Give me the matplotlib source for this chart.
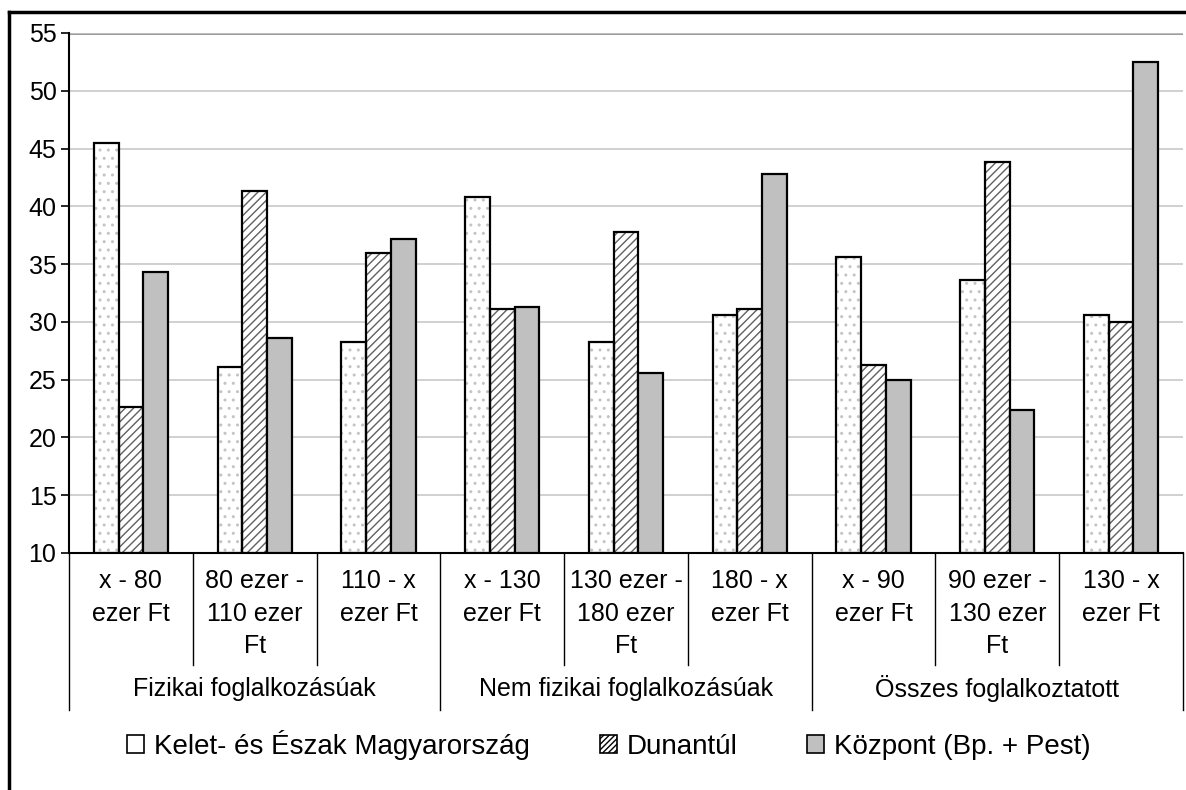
import numpy as np
import matplotlib.pyplot as plt
from matplotlib.patches import Patch
from matplotlib.lines import Line2D

plt.rcParams['font.family'] = ['Liberation Sans', 'DejaVu Sans']
plt.rcParams['hatch.linewidth'] = 1.0

# data
groups = ['Fizikai foglalkozásúak', 'Nem fizikai foglalkozásúak', 'Összes foglalkoztatott']
categories = ['x - 80\nezer Ft', '80 ezer -\n110 ezer\nFt', '110 - x\nezer Ft',
              'x - 130\nezer Ft', '130 ezer -\n180 ezer\nFt', '180 - x\nezer Ft',
              'x - 90\nezer Ft', '90 ezer -\n130 ezer\nFt', '130 - x\nezer Ft']
series = ['Kelet- és Észak Magyarország', 'Dunantúl', 'Központ (Bp. + Pest)']
kelet = [45.5, 26.1, 28.3, 40.8, 28.3, 30.6, 35.6, 33.6, 30.6]
dunantul = [22.6, 41.3, 36.0, 31.1, 37.8, 31.1, 26.3, 43.8, 30.0]
kozpont = [34.3, 28.6, 37.2, 31.3, 25.6, 42.8, 25.0, 22.4, 52.5]

fig = plt.figure(figsize=(11.86, 7.9), dpi=100)
ax = fig.add_axes([69/1186, 1 - 553/790, (1183 - 69)/1186, 520/790])

x = np.arange(len(categories)) + 0.5
w = 0.2
styles = [dict(face='white', hatch='..', hcol='#c4c4c4'),
          dict(face='white', hatch='////', hcol='#606060'),
          dict(face='#c0c0c0', hatch=None, hcol=None)]

for k, vals in enumerate([kelet, dunantul, kozpont]):
    st = styles[k]
    pos = x + (k - 1) * w
    base = [v - 10 for v in vals]
    if st['hatch']:
        # hatch drawn in its own colour, black outline on top
        ax.bar(pos, base, w, bottom=10, color=st['face'], hatch=st['hatch'],
               edgecolor=st['hcol'], linewidth=0, zorder=2)
        ax.bar(pos, base, w, bottom=10, fill=False, edgecolor='black', linewidth=1.6, zorder=3)
    else:
        ax.bar(pos, base, w, bottom=10, color=st['face'], edgecolor='black',
               linewidth=1.6, zorder=3)

ax.set_xlim(0, 9)
ax.set_ylim(10, 55)
ax.set_yticks(range(10, 56, 5))
ax.tick_params(axis='y', labelsize=18, length=6, width=1.2, direction='out', pad=3)
ax.set_xticks([])
ax.grid(axis='y', color='#c8c8c8', linewidth=1.2, zorder=0)
ax.axhline(55, color='#909090', linewidth=2, zorder=1)
for s in ['top', 'right']:
    ax.spines[s].set_visible(False)
ax.spines['left'].set_linewidth(1.5)
ax.spines['bottom'].set_linewidth(1.5)

# multilevel category axis
for i in range(10):
    y_end = -0.302 if i % 3 == 0 else -0.215
    ax.plot([i, i], [0, y_end], color='black', linewidth=1.0,
            transform=ax.get_xaxis_transform(), clip_on=False)
for i, lab in enumerate(categories):
    ax.text(i + 0.5, -0.03, lab, transform=ax.get_xaxis_transform(),
            ha='center', va='top', fontsize=18, linespacing=1.47)
for g, lab in enumerate(groups):
    ax.text(g * 3 + 1.5, -0.261, lab, transform=ax.get_xaxis_transform(),
            ha='center', va='center', fontsize=18)

handles = [Patch(facecolor='white', edgecolor='black', linewidth=1.2),
           Patch(facecolor='white', edgecolor='black', hatch='//////', linewidth=1.2),
           Patch(facecolor='#c0c0c0', edgecolor='black', linewidth=1.2)]
fig.legend(handles, series, loc='center', bbox_to_anchor=(0.5135, 1 - 745/790), ncol=3,
           frameon=False, fontsize=20, handlelength=0.62, handleheight=0.62,
           handletextpad=0.36, columnspacing=2.5)

# outer chart border
fig.add_artist(Line2D([9/1186, 9/1186], [0, 1 - 12/790], color='black', linewidth=2.5))
fig.add_artist(Line2D([9/1186, 1], [1 - 12/790, 1 - 12/790], color='black', linewidth=2.5))

fig.savefig('out.png', dpi=100)
